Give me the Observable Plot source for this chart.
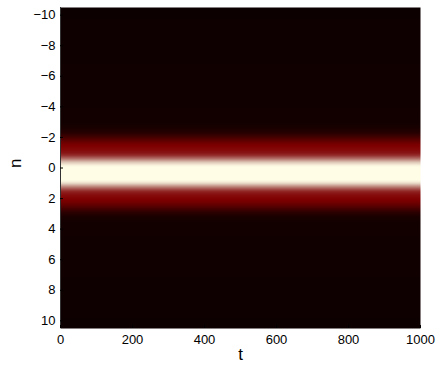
<!DOCTYPE html>
<html>
<head>
<meta charset="utf-8">
<script src="https://cdn.jsdelivr.net/npm/d3@7"></script>
<script src="https://cdn.jsdelivr.net/npm/@observablehq/plot@0.6"></script>
<style>
  html, body { margin: 0; padding: 0; background: #fff; }
  #chart { width: 436px; height: 371px; }
</style>
</head>
<body>
<div id="chart"></div>
<script>
// Axis ticks and extents
const tTicks = [0, 200, 400, 600, 800, 1000];
const nTicks = [-10, -8, -6, -4, -2, 0, 2, 4, 6, 8, 10];
const tExtent = [0, 1000];
const nExtent = [-10.5, 10.5];

// Intensity profile across n, constant along t
const profileN     = [-10.5, -3.0, -2.6, -2.3, -2.0, -1.7, -1.45, -1.2, -1.0, -0.8, -0.6, -0.4, -0.2, -0.1, 0.8, 0.95, 1.1, 1.3, 1.5, 1.75, 2.0, 2.3, 2.6, 2.9, 3.2, 3.6, 10.5];
const profileLevel = [0,     0.02, 0.05, 0.10, 0.22, 0.36, 0.45,  0.48, 0.52, 0.60, 0.72, 0.84, 0.96, 1.0,  1.0, 0.94, 0.82, 0.70, 0.58, 0.50, 0.46, 0.38, 0.25, 0.12, 0.05, 0.02, 0];

// Colour map stops
const colorStops = [0, 0.3, 0.45, 0.55, 0.7, 0.85, 1];
const colorRange = ["#0d0000", "#5a0000", "#800000", "#8c1c1c", "#b06a62", "#dcc4b4", "#fffde6"];

// Labels
const xLabel = ["t"];
const yLabel = ["n"];

const grid = [];
for (const t of tTicks) {
  profileN.forEach((n, i) => grid.push({t, n, v: profileLevel[i]}));
}

const chart = Plot.plot({
  width: 436,
  height: 371,
  marginLeft: 60,
  marginRight: 16,
  marginTop: 7,
  marginBottom: 43,
  style: {fontFamily: "'Liberation Sans', Arial, sans-serif", fontSize: "13px", background: "#fff", color: "#000"},
  x: {domain: tExtent},
  y: {domain: nExtent, reverse: true},
  color: {type: "linear", domain: colorStops, range: colorRange},
  marks: [
    Plot.raster(grid, {
      x: "t", y: "n", fill: "v",
      interpolate: "barycentric",
      x1: tExtent[0], x2: tExtent[1], y1: nExtent[0], y2: nExtent[1]
    }),
    Plot.ruleX([tExtent[0]], {stroke: "#333", strokeWidth: 1}),
    Plot.axisX({ticks: tTicks, tickSize: -3, tickPadding: 9, label: null, stroke: "#000", tickFormat: d => String(d)}),
    Plot.axisY({ticks: nTicks, tickSize: -3, tickPadding: 8, label: null, stroke: "#000"}),
    Plot.text(xLabel, {frameAnchor: "bottom", dy: 31, fontSize: 17, fill: "#000"}),
    Plot.text(yLabel, {frameAnchor: "left", dx: -45, rotate: -90, fontSize: 17, fill: "#000"})
  ]
});
document.getElementById("chart").appendChild(chart);
</script>
</body>
</html>
